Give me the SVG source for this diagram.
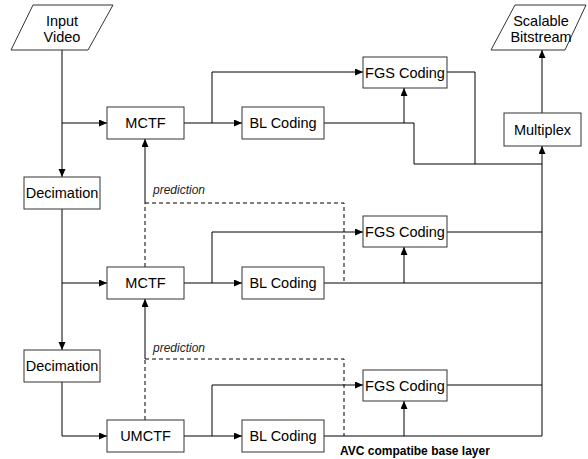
<svg xmlns="http://www.w3.org/2000/svg" width="588" height="459" viewBox="0 0 588 459">
<defs>
<marker id="arr" markerWidth="9" markerHeight="8" refX="8" refY="3.5" orient="auto" markerUnits="userSpaceOnUse">
<path d="M0,0 L8,3.5 L0,7 z" fill="#000"/>
</marker>
<style>
.box{fill:#fff;stroke:#333;stroke-width:1}
.lbl{font-family:"Liberation Sans",Arial,sans-serif;font-size:14.5px;fill:#000;text-anchor:middle}
.ln{fill:none;stroke:#000;stroke-width:1}
.ar{marker-end:url(#arr)}
.dash{fill:none;stroke:#000;stroke-width:1;stroke-dasharray:4,3}
.pred{font-family:"Liberation Sans",Arial,sans-serif;font-size:12px;font-style:italic;fill:#222}
.avc{font-family:"Liberation Sans",Arial,sans-serif;font-size:12px;font-weight:bold;fill:#000}
</style>
</defs>
<rect width="588" height="459" fill="#fff"/>
<g id="connectors">
<path class="ln ar" d="M62,50 V177"/>
<path class="ln ar" d="M62,123 H107"/>
<path class="ln ar" d="M62,209 V283 H107"/>
<path class="ln ar" d="M62,283 V350"/>
<path class="ln ar" d="M62,382 V436 H107"/>
<path class="ln ar" d="M184,123 H242"/>
<path class="ln ar" d="M212,123 V72 H363"/>
<path class="ln" d="M324,123 H414 V164 H542"/>
<path class="ln ar" d="M404,123 V88"/>
<path class="ln" d="M447,72 H475 V164"/>
<path class="ln ar" d="M542,436 V146"/>
<path class="ln ar" d="M542,113 V50"/>
<path class="ln ar" d="M184,283 H242"/>
<path class="ln ar" d="M212,283 V232 H363"/>
<path class="ln" d="M324,283 H542"/>
<path class="ln ar" d="M404,283 V247"/>
<path class="ln" d="M447,232 H542"/>
<path class="ln ar" d="M184,436 H242"/>
<path class="ln ar" d="M212,436 V385 H363"/>
<path class="ln" d="M324,436 H542"/>
<path class="ln ar" d="M404,436 V401"/>
<path class="ln" d="M447,385 H542"/>
<path class="dash" d="M145,267 V203"/>
<path class="dash" d="M145,203 H344 V283"/>
<path class="ln ar" d="M145,203 V139"/>
<path class="dash" d="M145,420 V359"/>
<path class="dash" d="M145,359 H344 V436"/>
<path class="ln ar" d="M145,359 V299"/>
<text class="pred" x="153" y="194">prediction</text>
<text class="pred" x="153" y="352">prediction</text>
<text class="avc" x="340" y="455">AVC compatibe base layer</text>
</g>
<g id="input-video">
<polygon class="box" points="33,5 113,5 88,50 11,50"/>
<text class="lbl" x="62" y="26">Input</text>
<text class="lbl" x="62" y="42">Video</text>
</g>
<g id="scalable-bitstream">
<polygon class="box" points="515,5 586,5 565,50 491,50"/>
<text class="lbl" x="541" y="26">Scalable</text>
<text class="lbl" x="541" y="42">Bitstream</text>
</g>
<g id="decimation1"><rect class="box" x="24" y="177" width="76" height="32"/><text class="lbl" x="62" y="198">Decimation</text></g>
<g id="decimation2"><rect class="box" x="24" y="350" width="76" height="32"/><text class="lbl" x="62" y="371">Decimation</text></g>
<g id="mctf1"><rect class="box" x="107" y="107" width="77" height="32"/><text class="lbl" x="145.5" y="128">MCTF</text></g>
<g id="mctf2"><rect class="box" x="107" y="267" width="77" height="32"/><text class="lbl" x="145.5" y="288">MCTF</text></g>
<g id="umctf"><rect class="box" x="107" y="420" width="77" height="32"/><text class="lbl" x="145.5" y="441">UMCTF</text></g>
<g id="bl1"><rect class="box" x="242" y="107" width="82" height="32"/><text class="lbl" x="283" y="128">BL Coding</text></g>
<g id="bl2"><rect class="box" x="242" y="267" width="82" height="32"/><text class="lbl" x="283" y="288">BL Coding</text></g>
<g id="bl3"><rect class="box" x="242" y="420" width="82" height="32"/><text class="lbl" x="283" y="441">BL Coding</text></g>
<g id="fgs1"><rect class="box" x="363" y="57" width="84" height="31"/><text class="lbl" x="405" y="77.5">FGS Coding</text></g>
<g id="fgs2"><rect class="box" x="363" y="216" width="84" height="31"/><text class="lbl" x="405" y="236.5">FGS Coding</text></g>
<g id="fgs3"><rect class="box" x="363" y="370" width="84" height="31"/><text class="lbl" x="405" y="390.5">FGS Coding</text></g>
<g id="multiplex"><rect class="box" x="504" y="113" width="77" height="33"/><text class="lbl" x="542.5" y="134.5">Multiplex</text></g>
</svg>
